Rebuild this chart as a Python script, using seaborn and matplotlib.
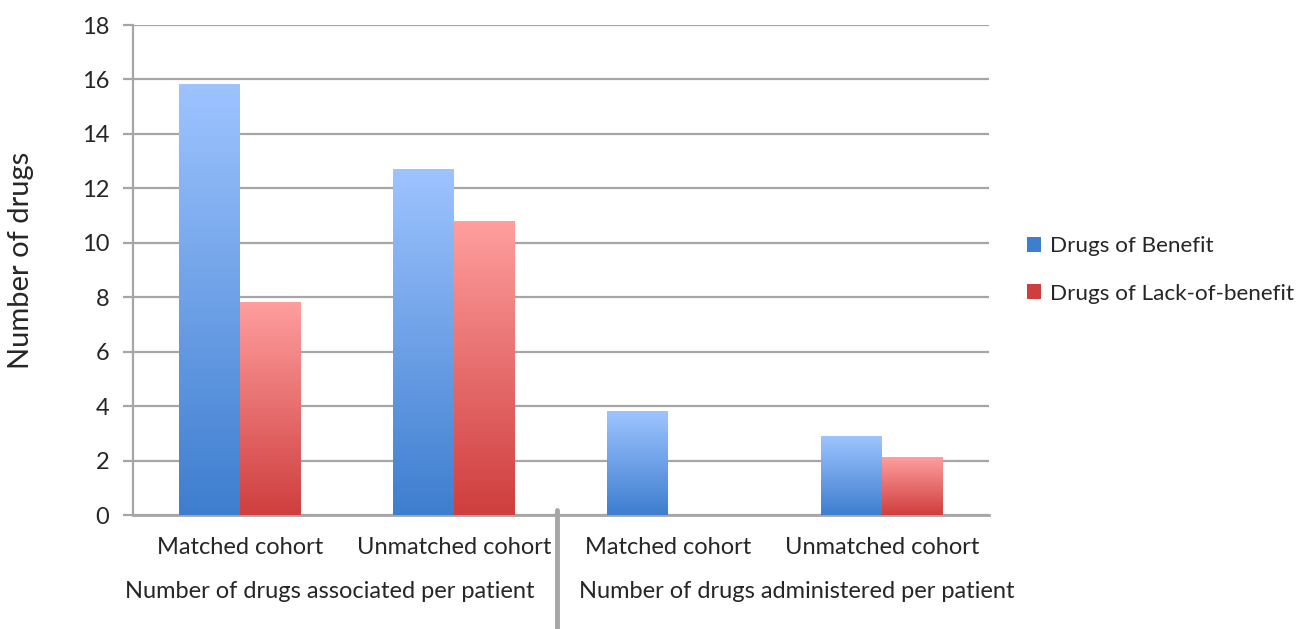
import numpy as np
import pandas as pd
import matplotlib
matplotlib.use("Agg")
import matplotlib.pyplot as plt
from matplotlib.colors import LinearSegmentedColormap
from matplotlib.patches import Patch
import seaborn as sns

sns.set_theme(style="white")
plt.rcParams['font.family'] = ['Lato', 'DejaVu Sans']

# data
groups = ["Number of drugs associated per patient", "Number of drugs administered per patient"]
cohorts = ["Matched cohort", "Unmatched cohort", "Matched cohort", "Unmatched cohort"]
benefit = [15.8, 12.7, 3.8, 2.9]
lack_of_benefit = [7.8, 10.8, 0.0, 2.1]
series = ["Drugs of Benefit", "Drugs of Lack-of-benefit"]

keys = [f"{i}" for i in range(len(cohorts))]
df = pd.DataFrame({
    "key": keys * 2,
    "value": benefit + lack_of_benefit,
    "series": [series[0]] * 4 + [series[1]] * 4,
})

grad = {
    series[0]: ("#3E7ECF", "#9EC4FF"),
    series[1]: ("#CF3E3E", "#FF9E9E"),
}

fig = plt.figure(figsize=(13.02, 6.29), dpi=100)
ax = fig.add_axes([133 / 1302, 1 - 515 / 629, (989 - 133) / 1302, (515 - 25) / 629])

sns.barplot(data=df, x="key", y="value", hue="series", order=keys,
            palette={s: grad[s][0] for s in series}, width=0.57,
            gap=0, ax=ax, legend=False, zorder=3)

ax.set_ylim(0, 18)
ax.set_xlim(-0.5, 3.5)
ax.set_yticks(range(0, 19, 2))
ax.yaxis.grid(True, color="#a6a6a6", lw=1.6, zorder=0)
ax.set_axisbelow(True)

# gradient fill per bar
for container, s in zip(ax.containers, series):
    cmap = LinearSegmentedColormap.from_list(s, [grad[s][0], grad[s][1]])
    for bar in container:
        h = bar.get_height()
        if h <= 0:
            bar.set_visible(False)
            continue
        x0 = bar.get_x()
        w = bar.get_width()
        img = np.linspace(0, 1, 256).reshape(-1, 1)
        ax.imshow(img, extent=(x0, x0 + w, 0, h), origin="lower",
                  aspect="auto", cmap=cmap, zorder=3.5)
        bar.set_edgecolor("none")
ax.set_xlim(-0.5, 3.5)
ax.set_ylim(0, 18)

for side in ["top", "right"]:
    ax.spines[side].set_visible(False)
ax.spines["left"].set_color("#a6a6a6")
ax.spines["left"].set_linewidth(1.6)
ax.spines["bottom"].set_color("#a6a6a6")
ax.spines["bottom"].set_linewidth(2)
ax.tick_params(axis="y", left=True, length=7, width=1.6, color="#a6a6a6",
               labelsize=17, pad=10)
ax.tick_params(axis="x", bottom=False, labelsize=17, pad=10)
ax.set_xticks(range(4))
ax.set_xticklabels(cohorts)
ax.set_xlabel("")
ax.set_ylabel("Number of drugs", fontsize=21, ha="center", va="center")
ax.yaxis.set_label_coords((21 - 133) / 856, 0.52)

# group labels and divider
fig.text(330 / 1302, 1 - 592 / 629, groups[0], ha="center", va="center", fontsize=17)
fig.text(797 / 1302, 1 - 592 / 629, groups[1], ha="center", va="center", fontsize=17)
fig.add_artist(plt.Line2D([557 / 1302, 557 / 1302], [0, 1 - 510 / 629],
                          color="#a6a6a6", lw=3.5))

handles = [Patch(facecolor=grad[s][0], edgecolor="none") for s in series]
fig.legend(handles, series, loc="center left", bbox_to_anchor=(1027 / 1302, 1 - 270 / 629),
           frameon=False, fontsize=16.2, handlelength=0.6, handleheight=0.6,
           handletextpad=0.4, labelspacing=1.2, borderpad=0, borderaxespad=0)

fig.savefig("out.png", dpi=100)
